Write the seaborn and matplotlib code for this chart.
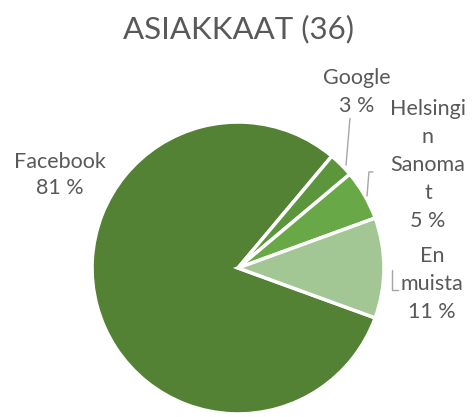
import matplotlib
matplotlib.use("Agg")
import matplotlib.pyplot as plt
import seaborn as sns

# Asiakkaat (36) - mistä kuulivat
categories = ["Facebook", "Google", "Helsingin Sanomat", "En muista"]
counts = [29, 1, 2, 4]
label_texts = ["Facebook\n81 %", "Google\n3 %", "Helsingi\nn\nSanoma\nt\n5 %", "En\nmuista\n11 %"]
colors = ["#538235", "#5b963c", "#68a846", "#a3c794"]

sns.set_theme(style="white")
plt.rcParams["font.family"] = ["Lato", "DejaVu Sans"]
grey = "#595959"

fig = plt.figure(figsize=(4.75, 4.17), dpi=100)
ax = fig.add_axes([0, 0, 1, 1])

wedges, _ = ax.pie(counts, colors=colors, startangle=-20, counterclock=False,
                   radius=1.0, wedgeprops=dict(edgecolor="white", linewidth=2.5))

ax.set_xlim(-1.630, 1.623)
ax.set_ylim(-1.021, 1.836)
ax.set_aspect("equal")
ax.axis("off")

ax.text(0, 1.64, "ASIAKKAAT (36)", ha="center", va="center", fontsize=22.5, color=grey)

# label positions (data coords)
label_pos = [(-1.219, 0.637), (0.815, 1.205), (1.301, 0.705), (1.329, -0.110)]
spacings = [1.38, 1.5, 1.5, 1.5]
for txt, (x, y), ls in zip(label_texts, label_pos, spacings):
    ax.text(x, y, txt, ha="center", va="center", fontsize=15.5, color=grey,
            linespacing=ls)

# leader lines
lc = "#a6a6a6"
ax.plot([0.767, 0.740], [1.025, 0.705], color=lc, lw=1)
ax.plot([0.925, 0.897, 0.884], [0.658, 0.658, 0.493], color=lc, lw=1)
ax.plot([1.055, 1.055, 1.096], [-0.014, -0.151, -0.151], color=lc, lw=1)

plt.savefig("out.png", dpi=100)
